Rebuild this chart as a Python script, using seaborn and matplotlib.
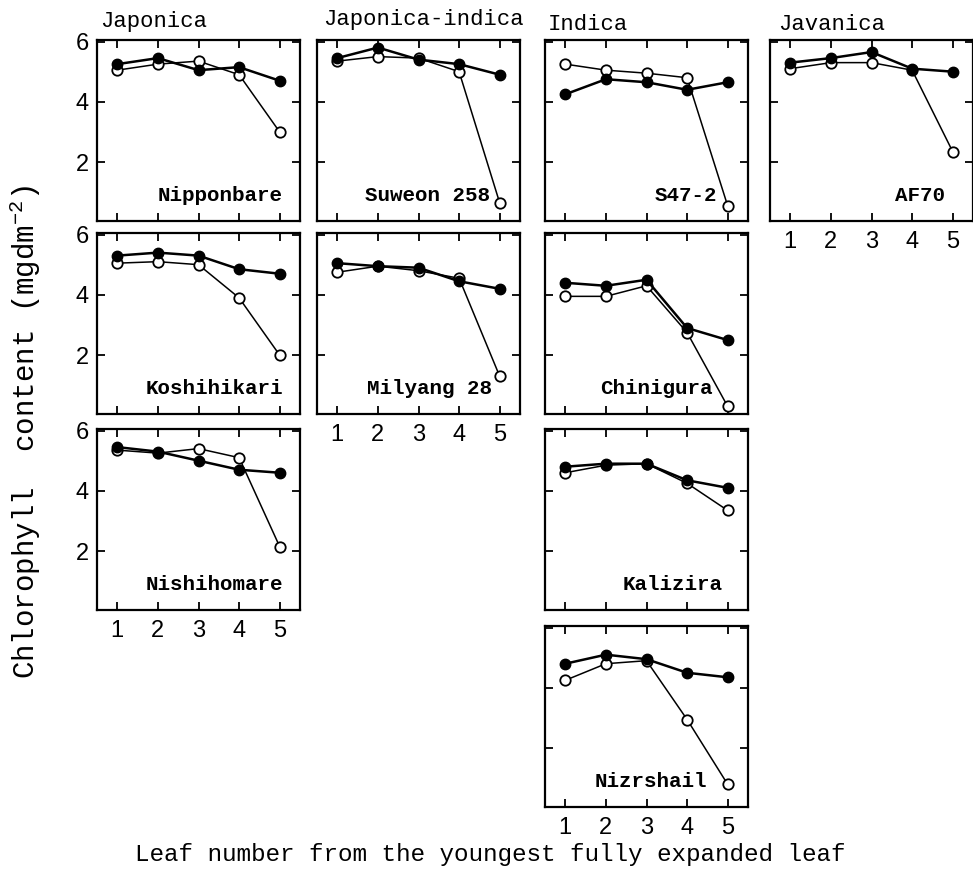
import matplotlib
matplotlib.use("Agg")
import matplotlib.pyplot as plt
import seaborn as sns
import pandas as pd

# ---------------- data ----------------
leaf = [1, 2, 3, 4, 5]
groups = ["Japonica", "Japonica-indica", "Indica", "Javanica"]
ytick_vals = [2, 4, 6]

nipponbare_filled = [5.25, 5.45, 5.05, 5.15, 4.70]
nipponbare_open = [5.05, 5.25, 5.35, 4.90, 3.00]
koshihikari_filled = [5.30, 5.40, 5.30, 4.85, 4.70]
koshihikari_open = [5.05, 5.10, 5.00, 3.90, 2.00]
nishihomare_filled = [5.45, 5.30, 5.00, 4.70, 4.60]
nishihomare_open = [5.35, 5.25, 5.40, 5.10, 2.15]
suweon_filled = [5.45, 5.80, 5.40, 5.25, 4.90]
suweon_open = [5.35, 5.50, 5.45, 5.00, 0.65]
milyang_filled = [5.05, 4.95, 4.90, 4.45, 4.20]
milyang_open = [4.75, 4.95, 4.80, 4.55, 1.30]
s47_filled = [4.25, 4.75, 4.65, 4.40, 4.65]
s47_open = [5.25, 5.05, 4.95, 4.80, 0.55]
chinigura_filled = [4.40, 4.30, 4.50, 2.90, 2.50]
chinigura_open = [3.95, 3.95, 4.30, 2.75, 0.30]
kalizira_filled = [4.80, 4.90, 4.90, 4.35, 4.10]
kalizira_open = [4.60, 4.85, 4.90, 4.25, 3.35]
nizrshail_filled = [4.80, 5.10, 4.95, 4.50, 4.35]
nizrshail_open = [4.25, 4.80, 4.90, 2.95, 0.80]
af70_filled = [5.30, 5.45, 5.65, 5.10, 5.00]
af70_open = [5.10, 5.30, 5.30, 5.05, 2.35]

# (name, column, row, filled, open)
panels = [
    ("Nipponbare", 0, 0, nipponbare_filled, nipponbare_open),
    ("Koshihikari", 0, 1, koshihikari_filled, koshihikari_open),
    ("Nishihomare", 0, 2, nishihomare_filled, nishihomare_open),
    ("Suweon 258", 1, 0, suweon_filled, suweon_open),
    ("Milyang 28", 1, 1, milyang_filled, milyang_open),
    ("S47-2", 2, 0, s47_filled, s47_open),
    ("Chinigura", 2, 1, chinigura_filled, chinigura_open),
    ("Kalizira", 2, 2, kalizira_filled, kalizira_open),
    ("Nizrshail", 2, 3, nizrshail_filled, nizrshail_open),
    ("AF70", 3, 0, af70_filled, af70_open),
]

# ---------------- layout / style ----------------
W, H = 973, 882
col_left = [97, 317, 545, 770]
row_top = [40, 233, 429, 626]
pw, ph = 203, 181
label_right = {"Nipponbare": 0.916, "Koshihikari": 0.916, "Nishihomare": 0.916,
               "Suweon 258": 0.852, "Milyang 28": 0.862, "S47-2": 0.847,
               "Chinigura": 0.828, "Kalizira": 0.877, "Nizrshail": 0.80,
               "AF70": 0.862}
title_pos = [(100, 27), (323, 25), (548, 30), (778, 30)]
n_rows = {0: 3, 1: 2, 2: 4, 3: 1}

sns.set_theme(style="white")
plt.rcParams["font.family"] = ["Liberation Mono", "DejaVu Sans"]
plt.rcParams["mathtext.fontset"] = "custom"
plt.rcParams["mathtext.rm"] = "Liberation Mono"
plt.rcParams["mathtext.it"] = "Liberation Mono"

fig = plt.figure(figsize=(W / 100, H / 100), dpi=100)
fig.patch.set_facecolor("white")

for name, c, r, yf, yo in panels:
    left = col_left[c] / W
    bottom = 1 - (row_top[r] + ph) / H
    ax = fig.add_axes([left, bottom, pw / W, ph / H])
    df = pd.DataFrame({"leaf": leaf + leaf,
                       "chl": list(yo) + list(yf),
                       "kind": ["open"] * 5 + ["filled"] * 5})
    sns.lineplot(data=df[df.kind == "open"], x="leaf", y="chl", ax=ax,
                 color="black", linewidth=1.1, marker="o", markersize=7.5,
                 markerfacecolor="white", markeredgecolor="black",
                 markeredgewidth=1.3, zorder=3)
    sns.lineplot(data=df[df.kind == "filled"], x="leaf", y="chl", ax=ax,
                 color="black", linewidth=1.8, marker="o", markersize=7.5,
                 markerfacecolor="black", markeredgecolor="black",
                 markeredgewidth=1.0, zorder=4)
    ax.set_xlim(0.5, 5.5)
    ax.set_ylim(0.05, 6.05)
    ax.set_xticks(leaf)
    ax.set_yticks(ytick_vals)
    ax.set_xlabel("")
    ax.set_ylabel("")
    for s in ax.spines.values():
        s.set_linewidth(1.6)
        s.set_color("black")
    ax.tick_params(direction="in", length=6, width=1.3, top=True, right=True,
                   bottom=True, left=True, colors="black")
    ax.tick_params(axis="x", pad=7)
    ax.tick_params(axis="y", pad=6)
    last_row = (r == n_rows[c] - 1)
    if last_row:
        ax.set_xticklabels([str(v) for v in leaf],
                           fontfamily="Liberation Sans", fontsize=17)
    else:
        ax.set_xticklabels([])
    if c == 0:
        ax.set_yticklabels([str(v) for v in ytick_vals],
                           fontfamily="Liberation Sans", fontsize=17)
    else:
        ax.set_yticklabels([])
    ax.text(label_right[name], 0.11, name, transform=ax.transAxes,
            ha="right", va="baseline", fontsize=15, fontweight="bold",
            family="Liberation Mono", color="black")

for g, (x, y) in zip(groups, title_pos):
    fig.text(x / W, 1 - y / H, g, ha="left", va="baseline", fontsize=16,
             family="Liberation Mono", color="black")

fig.text(25 / W, 1 - 432 / H, "Chlorophyll  content (mgdm$^{-2}$)",
         rotation=90, ha="center", va="center", fontsize=21,
         family="Liberation Mono", color="black")
fig.text(490 / W, 1 - 855 / H,
         "Leaf number from the youngest fully expanded leaf",
         ha="center", va="center", fontsize=17.5, family="Liberation Mono",
         color="black")

fig.savefig("out.png", dpi=100, facecolor="white")
